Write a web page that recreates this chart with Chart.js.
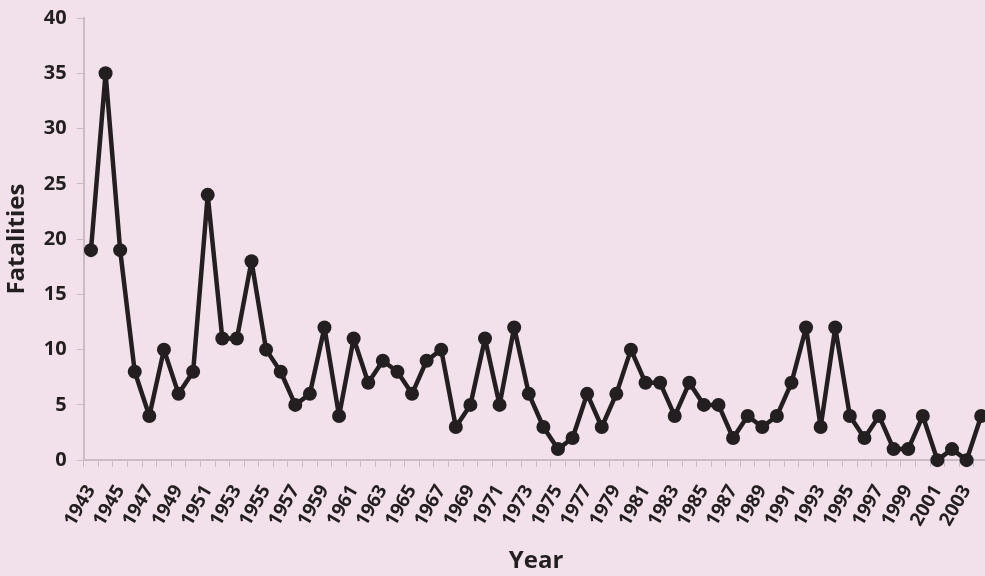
<!DOCTYPE html>
<html>
<head>
<meta charset="utf-8">
<script src="https://cdn.jsdelivr.net/npm/chart.js@4/dist/chart.umd.min.js"></script>
<style>
  html, body { margin: 0; padding: 0; background: #f2e1ea; overflow: hidden; }
  #wrap { position: relative; width: 1015px; height: 576px; }
</style>
</head>
<body>
<div id="wrap"><canvas id="c"></canvas></div>
<script>
const years = ["1943","1944","1945","1946","1947","1948","1949","1950","1951","1952","1953","1954","1955","1956","1957","1958","1959","1960","1961","1962","1963","1964","1965","1966","1967","1968","1969","1970","1971","1972","1973","1974","1975","1976","1977","1978","1979","1980","1981","1982","1983","1984","1985","1986","1987","1988","1989","1990","1991","1992","1993","1994","1995","1996","1997","1998","1999","2000","2001","2002","2003","2004"];
const fatalities = [19,35,19,8,4,10,6,8,24,11,11,18,10,8,5,6,12,4,11,7,9,8,6,9,10,3,5,11,5,12,6,3,1,2,6,3,6,10,7,7,4,7,5,5,2,4,3,4,7,12,3,12,4,2,4,1,1,4,0,1,0,4];
const yTicks = [0,5,10,15,20,25,30,35,40];
const xTitle = "Year";
const yTitle = "Fatalities";

const ink = "#231f20";
const axisGray = "#c9bcc4";
const fontFam = "'Open Sans', 'Noto Sans', sans-serif";

new Chart(document.getElementById('c'), {
  type: 'line',
  data: {
    labels: years,
    datasets: [{
      data: fatalities,
      borderColor: ink,
      backgroundColor: ink,
      borderWidth: 4.5,
      borderJoinStyle: 'round',
      pointRadius: 7,
      pointHoverRadius: 7,
      pointBackgroundColor: ink,
      pointBorderWidth: 0,
      tension: 0,
      clip: false
    }]
  },
  options: {
    responsive: true,
    maintainAspectRatio: false,
    animation: false,
    layout: { padding: { left: 3, right: 8, top: 0, bottom: 0 } },
    plugins: { legend: { display: false }, tooltip: { enabled: false } },
    scales: {
      x: {
        type: 'category',
        offset: true,
        grid: { display: true, offset: true, drawOnChartArea: false, drawTicks: true, tickLength: 7, color: axisGray, lineWidth: 1 },
        border: { display: true, color: axisGray, width: 2 },
        ticks: {
          autoSkip: false,
          maxRotation: 60, minRotation: 60,
          padding: 14,
          color: ink,
          font: { family: fontFam, size: 19, weight: 'bold' },
          callback: function(v, i) { return i % 2 === 0 ? years[i] : ''; }
        },
        title: { display: true, text: xTitle, color: ink, font: { family: fontFam, size: 24, weight: 'bold' }, padding: { top: 3, bottom: 0 } }
      },
      y: {
        min: 0, max: 40,
        afterBuildTicks: function(axis) { axis.ticks = yTicks.map(v => ({ value: v })); },
        grid: { display: true, drawOnChartArea: false, drawTicks: true, tickLength: 7, color: axisGray },
        border: { display: true, color: axisGray, width: 2 },
        ticks: { color: ink, padding: 10, font: { family: fontFam, size: 20, weight: 'bold', lineHeight: 0.8 } },
        title: { display: true, text: yTitle, color: ink, font: { family: fontFam, size: 24, weight: 'bold' }, padding: { top: 0, bottom: 2 } }
      }
    }
  }
});
</script>
</body>
</html>
